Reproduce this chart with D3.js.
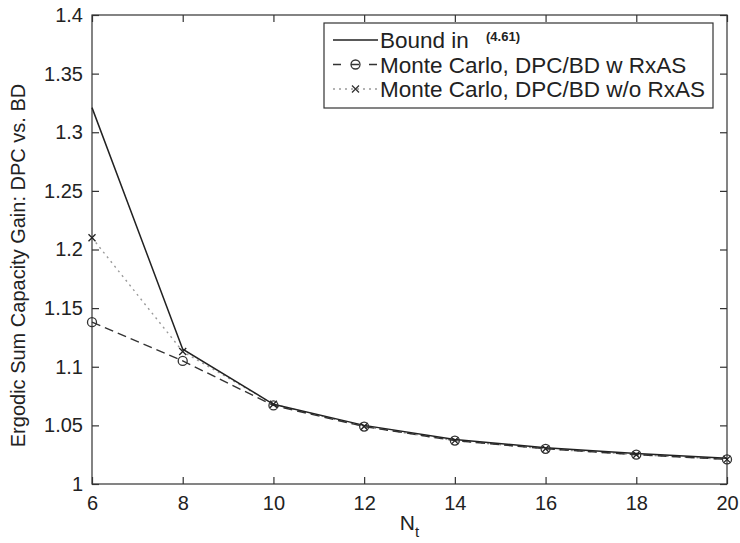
<!DOCTYPE html>
<html>
<head>
<meta charset="utf-8">
<script src="https://cdn.jsdelivr.net/npm/d3@7"></script>
<style>
  body { margin: 0; background: #fff; }
  text { font-family: "Liberation Sans", Arial, sans-serif; fill: #222; }
</style>
</head>
<body>
<svg id="chart" width="740" height="543"></svg>
<script>
// number of transmit antennas
var nt = [6, 8, 10, 12, 14, 16, 18, 20];

// series values
var boundVals = [1.321, 1.115, 1.068, 1.050, 1.038, 1.031, 1.026, 1.022];
var withRxAS = [1.138, 1.105, 1.067, 1.049, 1.037, 1.030, 1.025, 1.021];
var withoutRxAS = [1.210, 1.113, 1.068, 1.049, 1.037, 1.030, 1.025, 1.021];

// tick labels
var xTicks = [6, 8, 10, 12, 14, 16, 18, 20];
var yTicks = [1, 1.05, 1.1, 1.15, 1.2, 1.25, 1.3, 1.35, 1.4];

var legendLabels = ['Bound in', 'Monte Carlo, DPC/BD w RxAS', 'Monte Carlo, DPC/BD w/o RxAS'];

var margin = {left: 92, right: 13, top: 15, bottom: 59};
var W = 740, H = 543;

var svg = d3.select('#chart');

var x = d3.scaleLinear().domain([6, 20]).range([margin.left, W - margin.right]);
var y = d3.scaleLinear().domain([1, 1.4]).range([H - margin.bottom, margin.top]);

var axisColor = '#333';

// box around plot
svg.append('rect')
   .attr('x', x(6)).attr('y', y(1.4))
   .attr('width', x(20) - x(6)).attr('height', y(1) - y(1.4))
   .attr('fill', 'none').attr('stroke', axisColor).attr('stroke-width', 1.2);

// axes, ticks point inward like matlab
var xAxis = svg.append('g')
   .attr('transform', 'translate(0,' + y(1) + ')')
   .call(d3.axisBottom(x).tickValues(xTicks).tickSizeInner(-7).tickSizeOuter(0).tickPadding(12));
var xTop = svg.append('g')
   .attr('transform', 'translate(0,' + y(1.4) + ')')
   .call(d3.axisTop(x).tickValues(xTicks).tickSizeInner(-7).tickSizeOuter(0).tickFormat(''));
var yAxis = svg.append('g')
   .attr('transform', 'translate(' + x(6) + ',0)')
   .call(d3.axisLeft(y).tickValues(yTicks).tickSizeInner(-7).tickSizeOuter(0).tickPadding(9)
      .tickFormat(function(d){ return d3.format('')(+d.toFixed(2)); }));
var yRight = svg.append('g')
   .attr('transform', 'translate(' + x(20) + ',0)')
   .call(d3.axisRight(y).tickValues(yTicks).tickSizeInner(-7).tickSizeOuter(0).tickFormat(''));

[xAxis, xTop, yAxis, yRight].forEach(function(g) {
   g.select('.domain').remove();
   g.selectAll('line').attr('stroke', axisColor).attr('stroke-width', 1.2);
   g.selectAll('text').style('font-size', '20px').attr('fill', '#222')
    .style('font-family', '"Liberation Sans", Arial, sans-serif');
});

// axis titles
var xl = svg.append('text')
   .attr('x', (x(6) + x(20)) / 2).attr('y', 530)
   .attr('text-anchor', 'middle')
   .style('font-size', '21px');
xl.append('tspan').text('N');
xl.append('tspan').attr('dy', 7).style('font-size', '15px').text('t');

svg.append('text')
   .attr('transform', 'translate(25,' + ((y(1) + y(1.4)) / 2 + 16) + ') rotate(-90)')
   .attr('text-anchor', 'middle')
   .style('font-size', '20px')
   .text('Ergodic Sum Capacity Gain: DPC vs. BD');

// series lines
var line = d3.line()
   .x(function(d, i){ return x(nt[i]); })
   .y(function(d){ return y(d); });

var series = [
   {vals: withoutRxAS, stroke: '#9a9a9a', dash: '2,4', width: 1.4, marker: 'x'},
   {vals: withRxAS, stroke: '#333', dash: '9,5', width: 1.4, marker: 'o'},
   {vals: boundVals, stroke: '#222', dash: null, width: 1.5, marker: 'dot'}
];

function drawMarker(g, type, cx, cy, color) {
   if (type === 'o') {
      g.append('circle').attr('cx', cx).attr('cy', cy).attr('r', 4.5)
       .attr('fill', 'none').attr('stroke', color).attr('stroke-width', 1.3);
   } else if (type === 'x') {
      var s = 3.5;
      g.append('path')
       .attr('d', 'M' + (cx - s) + ',' + (cy - s) + 'L' + (cx + s) + ',' + (cy + s) +
                  'M' + (cx - s) + ',' + (cy + s) + 'L' + (cx + s) + ',' + (cy - s))
       .attr('stroke', color).attr('stroke-width', 1.3);
   } else if (type === 'dot') {
      g.append('circle').attr('cx', cx).attr('cy', cy).attr('r', 1.5).attr('fill', color);
   }
}

series.forEach(function(s) {
   svg.append('path')
      .datum(s.vals)
      .attr('d', line)
      .attr('fill', 'none')
      .attr('stroke', s.stroke)
      .attr('stroke-width', s.width)
      .attr('stroke-dasharray', s.dash);
});

// markers on top
var markerG = svg.append('g');
series.forEach(function(s) {
   if (s.marker === 'dot') return;
   var c = s.marker === 'x' ? '#222' : '#333';
   s.vals.forEach(function(v, i) {
      drawMarker(markerG, s.marker, x(nt[i]), y(v), c);
   });
});

// legend
var lg = svg.append('g');
lg.append('rect')
   .attr('x', 324).attr('y', 23).attr('width', 389).attr('height', 85)
   .attr('fill', '#fff').attr('stroke', axisColor).attr('stroke-width', 1.2);

var legendSeries = [series[2], series[1], series[0]];
legendLabels.forEach(function(lab, i) {
   var ly = 40 + i * 24.5;
   var s = legendSeries[i];
   lg.append('line')
     .attr('x1', 333).attr('x2', 378).attr('y1', ly).attr('y2', ly)
     .attr('stroke', s.stroke).attr('stroke-width', s.width)
     .attr('stroke-dasharray', s.dash === '9,5' ? '8,10' : s.dash);
   if (s.marker !== 'dot') drawMarker(lg, s.marker, 355.5, ly, '#333');
   lg.append('text')
     .attr('x', 380).attr('y', ly + 8)
     .style('font-size', '22.5px')
     .text(lab);
   if (i === 0) {
      lg.append('text')
        .attr('x', 486).attr('y', ly + 1)
        .style('font-size', '13px')
        .style('font-weight', 'bold')
        .text('(4.61)');
   }
});
</script>
</body>
</html>
